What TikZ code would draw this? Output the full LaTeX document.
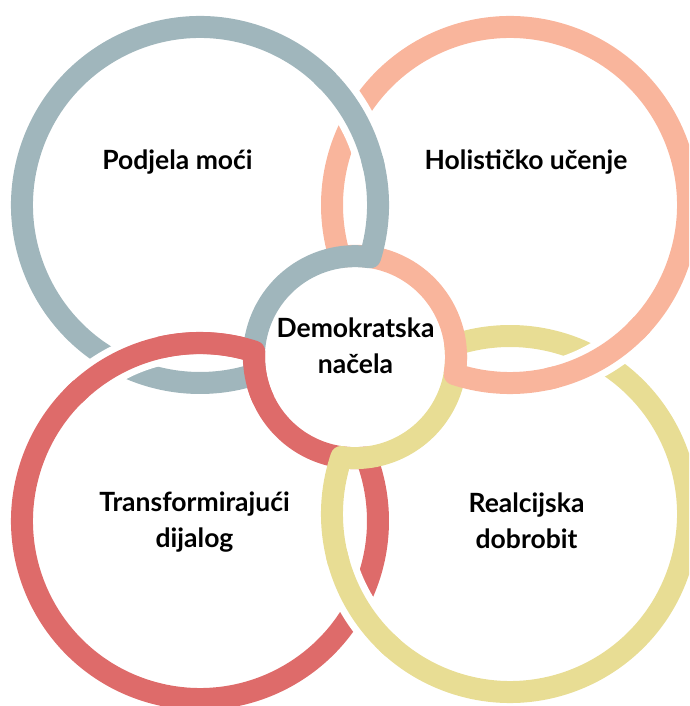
\documentclass[tikz,border=0pt]{standalone}
\usepackage{fontspec}
\setmainfont{Lato}
\usetikzlibrary{calc}
\definecolor{cgray}{HTML}{A0B6BC}
\definecolor{csalmon}{HTML}{F9B59C}
\definecolor{cyellow}{HTML}{E8DD94}
\definecolor{cred}{HTML}{DE6B6A}
\tikzset{
  ring/.style={line width=22pt, line join=round},
  gapline/.style={line width=36pt, white},
  lbl/.style={font=\bfseries\fontsize{26.5}{36}\selectfont, align=center, text=black, inner sep=0pt}
}
\begin{document}
\begin{tikzpicture}[x=1pt,y=1pt]
\useasboundingbox (0,0) rectangle (689,706);
\clip (0,0) rectangle (689,706);
\coordinate (G) at (200,501);
\coordinate (S) at (510,501);
\coordinate (R) at (200,185);
\coordinate (Y) at (510,192);
\coordinate (C) at (355,349);
% full shapes (bottom to top)
\draw[ring,cred] ($(R)+(72.3:178)$) arc[start angle=72.3, end angle=380.9, radius=178]
   arc[start angle=276.4, end angle=176.9, radius=101] -- cycle;
\draw[ring,cyellow] ($(Y)+(161.3:178)$) arc[start angle=161.3, end angle=467.9, radius=178]
   arc[start angle=7.1, end angle=-97.7, radius=101] -- cycle;
\draw[ring,csalmon] ($(S)+(251.9:178)$) arc[start angle=251.9, end angle=557, radius=178]
   arc[start angle=98.7, end angle=-9.7, radius=101] -- cycle;
\draw[ring,cgray] ($(G)+(-17:178)$) arc[start angle=-17, end angle=288.1, radius=178]
   arc[start angle=189.7, end angle=81.3, radius=101] -- cycle;
% crossings with white gaps
\draw[gapline] ($(G)+(15:178)$) arc[start angle=15, end angle=44, radius=178];
\draw[ring,cgray] ($(G)+(12:178)$) arc[start angle=12, end angle=47, radius=178];
\draw[gapline] ($(S)+(-75:178)$) arc[start angle=-75, end angle=-45, radius=178];
\draw[ring,csalmon] ($(S)+(-78:178)$) arc[start angle=-78, end angle=-42, radius=178];
\draw[gapline] ($(Y)+(196:178)$) arc[start angle=196, end angle=226, radius=178];
\draw[ring,cyellow] ($(Y)+(193:178)$) arc[start angle=193, end angle=229, radius=178];
\draw[gapline] ($(R)+(103:178)$) arc[start angle=103, end angle=132, radius=178];
\draw[ring,cred] ($(C)+(205:101)$) arc[start angle=205, end angle=176.9, radius=101]
   arc[start angle=72.3, end angle=135, radius=178];
% labels
\node[lbl, anchor=base] (podjela) at (177.5,536) {Podjela moći};
\node[lbl, anchor=base] (holist) at (526,536) {Holističko učenje};
\node[lbl] (demo) at (355.5,360) {Demokratska\\načela};
\node[lbl] (trans) at (194.5,184) {Transformirajući\\dijalog};
\node[lbl] (real) at (526.5,185) {Realcijska\\dobrobit};
\end{tikzpicture}
\end{document}
